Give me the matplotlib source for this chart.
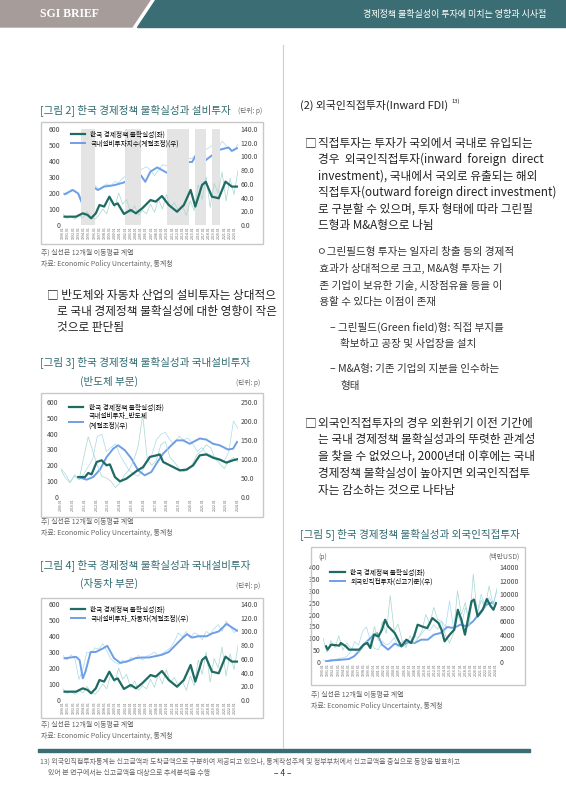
import numpy as np
import matplotlib
matplotlib.use("Agg")
import matplotlib.pyplot as plt
from matplotlib.patches import Rectangle, Polygon

plt.rcParams['font.family'] = ['Noto Sans CJK KR', 'DejaVu Sans']

# ---------------- data ----------------
# Fig 2 / Fig 4 : policy uncertainty (left) 1990-2023
unc_x = [1990.3,1992.5,1993.8,1994.7,1995.4,1996.3,1997,1997.9,1998.9,1999.8,2000.5,2001.7,2003,2004,2005.2,2006.8,2007.8,2009,2010.3,2011.9,2013.2,2014.5,2015.4,2016.7,2017.4,2018.6,2019.9,2021.2,2022.4,2023.4]
unc_y = [52,52,73,63,42,73,125,115,177,125,135,69,94,73,104,156,146,181,125,83,125,219,115,250,270,177,167,271,240,240]
unc_raw = [70,40,55,35,60,45,85,50,35,60,100,70,160,110,200,130,160,75,120,60,90,70,130,80,160,100,190,110,140,90,120,60,150,90,250,160,300,110,260,200,330,150,290,190,340]

inv_x = [1990.3,1991.9,1992.9,1993.8,1994.7,1995.7,1996.7,1997.9,1999.8,2001.7,2003.6,2004.9,2005.8,2006.8,2008.1,2010,2011.9,2013.2,2014.8,2015.9,2017.3,2019.2,2020.2,2021.8,2022.4,2023.4]
inv_y = [45,51,46,29,39,56,51,56,58,62,71,73,63,78,84,76,88,91,92,107,94,105,110,113,108,112]
inv_raw = [47,44,52,49,46,32,36,52,58,52,56,60,57,63,62,68,73,72,65,78,82,85,80,72,80,88,86,92,90,95,108,102,96,100,108,104,110,114,118,112,122,116,110,108,118]

shade_start = [1993.5, 2001.9, 2010.0, 2015.3, 2018.6]
shade_end = [1996.1, 2004.9, 2014.1, 2017.4, 2020.2]

# Fig 3 : semiconductor 2009-2023
u3_x = [2010.47,2011.03,2011.31,2011.59,2012.02,2012.44,2012.86,2013.14,2013.57,2013.99,2014.55,2015.4,2015.96,2016.53,2017.09,2017.37,2017.66,2018.22,2019.07,2019.63,2020.2,2020.76,2021.32,2021.89,2022.45,2023.01,2023.58,2023.92]
u3_y = [126,126,152,143,221,232,200,206,126,99,116,164,189,253,263,269,221,200,168,173,200,263,269,248,236,217,232,238]
u3_raw = [170,120,90,140,110,250,380,290,200,130,120,100,60,90,140,170,230,320,520,240,200,230,330,350,250,220,180,160,170,210,270,290,330,310,240,210,180,230,250,220]
s3_x = [2010.47,2011.17,2011.73,2012.3,2012.86,2013.42,2013.84,2014.41,2014.97,2015.54,2016.1,2016.66,2017.09,2017.65,2018.22,2018.78,2019.35,2019.91,2020.76,2021.32,2021.89,2022.45,2023.15,2023.58,2023.92]
s3_y = [52.6,45.6,52.6,72,105,127,136,123,101,70,57,66,88,114,132,149,149,140,154,151,140,136,125,127,145]
s3_raw = [75,60,40,55,45,60,80,100,160,165,120,130,140,110,90,70,60,55,70,95,110,150,165,170,150,140,160,150,155,140,120,130,115,110,105,100,95,120,200,180]

# Fig 4 : automobile
a4_x = [1990.3,1992.5,1993.2,1993.8,1994.3,1995.3,1996.3,1997.6,1998.5,1999.8,2001,2002.6,2003.9,2005.2,2006.5,2007.8,2009,2010.3,2011.6,2012.9,2013.8,2014.8,2016,2017.6,2018.6,2019.9,2021.4,2022.4,2023.4]
a4_y = [60.8,63,58,31.6,41,70,70,75,79,61,54,57,61,62,62,64,66,70,80,90,96,91,93,93,97,100,111,106,101]
a4_raw = [65,58,66,60,30,45,70,68,76,74,82,72,60,55,52,58,54,62,60,65,58,64,66,70,64,68,72,76,85,98,92,100,90,98,95,88,100,96,104,110,100,115,108,98,104]

# Fig 5 : FDI
u5_x = [1990.6,1990.9,1991.6,1993.2,1993.5,1994.5,1995.1,1997.1,1998,1998.7,1999.3,2000,2000.9,2001.6,2002.2,2002.8,2004.1,2005.4,2006.4,2007.3,2007.9,2008.6,2009.8,2010.5,2011.5,2012.7,2013.3,2013.9,2014.9,2015.8,2016.5,2017.2,2017.9,2019.2,2019.7,2020.4,2021.4,2022.2,2023,2023.5,2024]
u5_y = [66,52,73,69,80,66,52,52,73,80,59,115,108,136,178,150,122,66,94,80,108,157,147,143,185,164,136,87,115,136,220,178,115,256,262,192,220,265,234,220,248]
f5_x = [1990.6,1991.9,1993.8,1995.1,1996.1,1997.1,1998,1999,2000,2000.6,2001.6,2002.8,2004.1,2005.4,2006.7,2008,2009.3,2010.6,2011.8,2013.1,2014.4,2015.7,2017,2018.3,2019.5,2020.8,2022.1,2023.4]
f5_y = [98,246,344,442,835,1572,2554,3291,4027,4273,2554,1817,2701,2309,2898,2800,3291,3291,4027,4273,5157,5010,5501,5256,5992,7220,8448,8792]
u5_raw = [100,40,90,60,110,50,80,60,50,40,60,90,70,150,90,170,120,280,130,160,90,60,110,80,100,130,200,160,230,180,170,110,80,120,300,200,250,150,370,200,260,230,320,240,310]
f5_raw = [300,200,400,350,500,600,800,1500,3000,2500,4500,5200,3000,2000,1800,3000,2500,2800,3600,2200,3000,3300,3000,4000,3500,4200,5000,4600,5500,4800,6000,5200,9000,5000,7000,5500,8000,6500,9500,7200,10000,8000,9500,8500,10500]

# ---------------- page ----------------
W, H = 566, 800
fig = plt.figure(figsize=(W/100, H/100), dpi=100)
fig.patch.set_facecolor('white')
TEAL = '#2f6a70'
DARK = '#1e6b64'
LTEAL = '#a6d6d0'
BLUE = '#6e9fe6'
LBLUE = '#a9d9ee'
GRAY = '#666666'

def fx(x): return x / W
def fy(y): return 1 - y / H
def T(x, y, s, size=8, color='#222222', **kw):
    fig.text(fx(x), fy(y), s, fontsize=size, color=color, va='center', **kw)

# header
fig.patches.append(Polygon([[0, fy(0)], [fx(150), fy(0)], [fx(132), fy(27)], [0, fy(27)]], closed=True,
                           transform=fig.transFigure, color='#a69d9b'))
fig.patches.append(Polygon([[fx(155), fy(0)], [1, fy(0)], [1, fy(27)], [fx(137), fy(27)]], closed=True,
                           transform=fig.transFigure, color='#3b6e74'))
T(40, 14, 'SGI BRIEF', 8.5, 'white', family='Liberation Serif', weight='bold')
T(455, 14, '경제정책 불확실성이 투자에 미치는 영향과 시사점', 6.5, 'white', ha='center')
# divider and bottom rule
fig.add_artist(plt.Line2D([fx(283), fx(283)], [fy(45), fy(748)], color='#cfcfcf', lw=0.8))
fig.patches.append(Rectangle((fx(38), fy(752)), fx(492), 3/H, transform=fig.transFigure, color='#3b6e74'))
T(40, 762, '13) 외국인직접투자통계는 신고금액과 도착금액으로 구분하여 제공되고 있으나, 통계작성주체 및 정부부처에서 신고금액을 중심으로 동향을 발표하고', 5.0, GRAY)
T(48, 773, '있어 본 연구에서는 신고금액을 대상으로 추세분석을 수행', 5.0, GRAY)
T(283, 774, '– 4 –', 6, '#333333', ha='center')

def chart(box, axbox, xlim, ylim, ylim2, yt, yt2, fmt2, title_lines, tx, ty, unit, note_y):
    bl, bt, br, bb = box
    fig.patches.append(Rectangle((fx(bl), fy(bb)), fx(br - bl), (bb - bt)/H, transform=fig.transFigure,
                                 fill=False, edgecolor='#c8c8c8', lw=1))
    l, t, r, b = axbox
    ax = fig.add_axes([fx(l), fy(b), fx(r - l), (b - t)/H])
    ax2 = ax.twinx()
    for a in (ax, ax2):
        for s in a.spines.values():
            s.set_visible(False)
        a.tick_params(length=0, labelsize=5, colors='#444444', pad=2)
    ax.set_xlim(*xlim); ax.set_ylim(*ylim); ax2.set_ylim(*ylim2)
    ax.set_yticks(yt); ax2.set_yticks(yt2)
    ax2.set_yticklabels([fmt2(v) for v in yt2])
    yrs = np.arange(int(np.ceil(xlim[0])), int(xlim[1]) + 1)
    ax.set_xticks(yrs)
    ax.set_xticklabels([f'{y}.01' for y in yrs], rotation=90, fontsize=2.6, color='#666666')
    ax.tick_params(axis='x', pad=1)
    ax.set_zorder(ax2.get_zorder() + 1); ax.patch.set_visible(False)
    for i, s in enumerate(title_lines):
        T(tx[i], ty[i], s, 7.6, TEAL)
    if unit:
        T(unit[0], unit[1], '(단위: p)', 4.8, GRAY)
    T(bl, note_y, '주) 실선은 12개월 이동평균 계열', 5, GRAY)
    T(bl, note_y + 11, '자료: Economic Policy Uncertainty, 통계청', 5, GRAY)
    return ax, ax2

def leg(ax, ax2, l1, l2, lab1, lab2):
    ax.legend([l1, l2], [lab1, lab2], loc='upper left', bbox_to_anchor=(0.02, 1.03), fontsize=4.8,
              frameon=False, handlelength=2.2, labelspacing=0.2, borderaxespad=0.2)

# Fig 2
ax, ax2 = chart((41, 122, 263, 244), (63, 129, 238, 225), (1990, 2023.6), (0, 600), (0, 140),
                [0,100,200,300,400,500,600], [0,20,40,60,80,100,120,140], lambda v: f'{v:.1f}',
                ['[그림 2] 한국 경제정책 불확실성과 설비투자'], [40], [110], (238, 111), 253)
for s, e in zip(shade_start, shade_end):
    ax.axvspan(s, e, color='#e4e4e4', lw=0, zorder=0)
ax2.plot(np.linspace(1990, 2023.6, len(inv_raw)), inv_raw, color=LBLUE, lw=0.5)
ax.plot(np.linspace(1990, 2023.6, len(unc_raw)), unc_raw, color=LTEAL, lw=0.5)
l2, = ax2.plot(inv_x, inv_y, color=BLUE, lw=1.4)
l1, = ax.plot(unc_x, unc_y, color=DARK, lw=1.6)
leg(ax, ax2, l1, l2, '한국 경제정책 불확실성(좌)', '국내설비투자지수(계절조정)(우)')

T(47, 295, '□ 반도체와 자동차 산업의 설비투자는 상대적으', 8.4)
T(57, 312, '로 국내 경제정책 불확실성에 대한 영향이 작은', 8.4)
T(57, 328, '것으로 판단됨', 8.4)

# Fig 3
ax, ax2 = chart((41, 393, 263, 517), (61, 402, 238, 497), (2009, 2024), (0, 600), (0, 250),
                [0,100,200,300,400,500,600], [0,50,100,150,200,250], lambda v: f'{v:.1f}',
                ['[그림 3] 한국 경제정책 불확실성과 국내설비투자', '(반도체 부문)'], [40, 80], [362, 381], (236, 383), 522)
ax.plot(np.linspace(2009, 2024, len(u3_raw)), u3_raw, color=LTEAL, lw=0.5)
ax2.plot(np.linspace(2009, 2024, len(s3_raw)), s3_raw, color=LBLUE, lw=0.5)
l2, = ax2.plot(s3_x, s3_y, color=BLUE, lw=1.4)
l1, = ax.plot(u3_x, u3_y, color=DARK, lw=1.6)
leg(ax, ax2, l1, l2, '한국 경제정책 불확실성(좌)', '국내설비투자_반도체\n(계절조정)(우)')

# Fig 4
ax, ax2 = chart((41, 598, 263, 718), (63, 604, 238, 700), (1990, 2023.6), (0, 600), (0, 140),
                [0,100,200,300,400,500,600], [0,20,40,60,80,100,120,140], lambda v: f'{v:.1f}',
                ['[그림 4] 한국 경제정책 불확실성과 국내설비투자', '(자동차 부문)'], [40, 80], [565, 583], (236, 586), 725)
ax.plot(np.linspace(1990, 2023.6, len(unc_raw)), unc_raw, color=LTEAL, lw=0.5)
ax2.plot(np.linspace(1990, 2023.6, len(a4_raw)), a4_raw, color=LBLUE, lw=0.5)
l2, = ax2.plot(a4_x, a4_y, color=BLUE, lw=1.4)
l1, = ax.plot(unc_x, unc_y, color=DARK, lw=1.6)
leg(ax, ax2, l1, l2, '한국 경제정책 불확실성(좌)', '국내설비투자_자동차(계절조정)(우)')

# right column text
T(300, 105, '(2) 외국인직접투자(Inward FDI)', 7.8)
T(451, 101, '13)', 4.2)
body1 = ['직접투자는 투자가 국외에서 국내로 유입되는', '경우  외국인직접투자(inward  foreign  direct',
         'investment), 국내에서 국외로 유출되는 해외', '직접투자(outward foreign direct investment)',
         '로 구분할 수 있으며, 투자 형태에 따라 그린필', '드형과 M&A형으로 나뉨']
T(305, 143, '□', 8.4)
for i, s in enumerate(body1):
    T(318, 143 + i * 16.6, s, 8.4)
sub = ['ㅇ그린필드형 투자는 일자리 창출 등의 경제적', ' 효과가 상대적으로 크고, M&A형 투자는 기',
       ' 존 기업이 보유한 기술, 시장점유율 등을 이', ' 용할 수 있다는 이점이 존재']
for i, s in enumerate(sub):
    T(317, 252 + i * 16.8, s, 7.6, '#333333')
T(330, 327, '– 그린필드(Green field)형: 직접 부지를', 7.6, '#333333')
T(340, 344, '확보하고 공장 및 사업장을 설치', 7.6, '#333333')
T(330, 369, '– M&A형: 기존 기업의 지분을 인수하는', 7.6, '#333333')
T(340, 386, '형태', 7.6, '#333333')
body2 = ['외국인직접투자의 경우 외환위기 이전 기간에', '는 국내 경제정책 불확실성과의 뚜렷한 관계성',
         '을 찾을 수 없었으나, 2000년대 이후에는 국내', '경제정책 불확실성이 높아지면 외국인직접투',
         '자는 감소하는 것으로 나타남']
T(305, 423, '□', 8.4)
for i, s in enumerate(body2):
    T(318, 423 + i * 16.8, s, 8.4)

# Fig 5
ax, ax2 = chart((311, 547, 525, 685), (323, 567, 497, 662), (1990, 2024.2), (0, 400), (0, 14000),
                [0,50,100,150,200,250,300,350,400], [0,2000,4000,6000,8000,10000,12000,14000], lambda v: f'{v:.0f}',
                ['[그림 5] 한국 경제정책 불확실성과 외국인직접투자'], [300], [534], None, 695)
ax.plot(np.linspace(1990, 2024.2, len(u5_raw)), u5_raw, color=LTEAL, lw=0.5)
ax2.plot(np.linspace(1990, 2024.2, len(f5_raw)), f5_raw, color=LBLUE, lw=0.5)
l2, = ax2.plot(f5_x, f5_y, color=BLUE, lw=1.4)
l1, = ax.plot(u5_x, u5_y, color=DARK, lw=1.6)
leg(ax, ax2, l1, l2, '한국 경제정책 불확실성(좌)', '외국인직접투자(신고기준)(우)')
T(318, 557, '(p)', 5, GRAY)
T(520, 557, '(백만USD)', 5, GRAY, ha='right')

fig.savefig('out.png', dpi=100)
